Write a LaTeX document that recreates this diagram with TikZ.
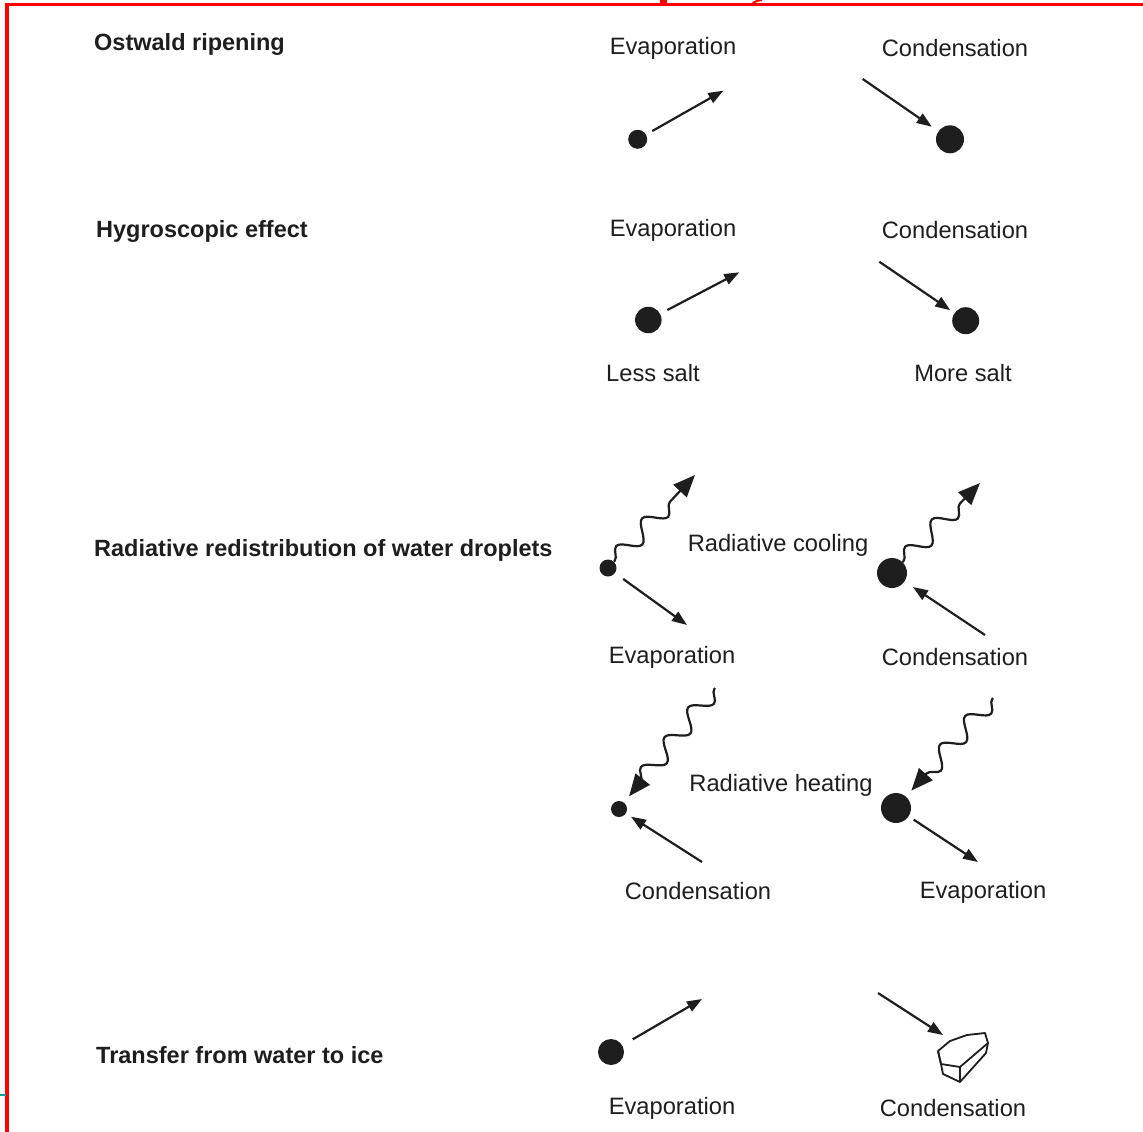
\documentclass[tikz,border=0pt]{standalone}
\usepackage{fontspec}
\setmainfont{Liberation Sans}
\usetikzlibrary{arrows.meta,decorations.pathmorphing}
\definecolor{ink}{HTML}{1E1E1E}
\definecolor{frame}{HTML}{FF0000}
\definecolor{tealline}{HTML}{00A0A0}
\tikzset{
  head/.style={font=\fontsize{23.5}{26}\selectfont\bfseries, text=ink, anchor=west, inner sep=0pt},
  lbl/.style={font=\fontsize{23.7}{26}\selectfont, text=ink, inner sep=0pt},
  drop/.style={circle, fill=ink, draw=none, inner sep=0pt},
  arr/.style={draw=ink, line width=2.2pt, -{Triangle[length=15pt,width=11pt]}},
  wavy/.style={draw=ink, line width=2.2pt, -{Triangle[length=22pt,width=18pt]},
    decorate, decoration={snake, amplitude=9pt, segment length=38pt, pre length=1pt, post length=20pt}},
}
\begin{document}
\begin{tikzpicture}[x=1pt,y=-1pt]
\useasboundingbox (0,0) rectangle (1143,1132);
% frame
\draw[frame, line width=3.5pt] (7,1132) -- (7,4.5) -- (1143,4.5);
\fill[frame] (660,0) rectangle (667,4);
\draw[frame, line width=2pt] (752,4) .. controls (756,1) .. (762,0);
\draw[tealline, line width=2pt] (0,1095) -- (6,1095);

% headings
\node[head] (h1) at (94,44) {Ostwald ripening};
\node[head] (h2) at (96,231) {Hygroscopic effect};
\node[head] (h3) at (94,550) {Radiative redistribution of water droplets};
\node[head] (h4) at (96,1055) {Transfer from water to ice};

% Ostwald ripening
\node[lbl] (t1) at (673,48) {Evaporation};
\node[lbl] (t2) at (955,48) {Condensation};
\node[drop, minimum size=19pt] (d1) at (637.7,139.3) {};
\coordinate (e1) at (723.3,90.7);
\draw[arr, shorten <=7pt] (d1) -- (e1);
\node[drop, minimum size=28pt] (d2) at (950,139.3) {};
\coordinate (c2) at (862.7,79);
\draw[arr, shorten >=8pt] (c2) -- (d2);

% Hygroscopic effect
\node[lbl] (t3) at (673,230) {Evaporation};
\node[lbl] (t4) at (955,230) {Condensation};
\node[drop, minimum size=26.5pt] (d3) at (648.3,320) {};
\coordinate (e3) at (739.3,272.3);
\draw[arr, shorten <=8pt] (d3) -- (e3);
\node[drop, minimum size=27pt] (d4) at (965.7,320.7) {};
\coordinate (c4) at (879.3,261.7);
\draw[arr, shorten >=5pt] (c4) -- (d4);
\node[lbl] (t5) at (653,373) {Less salt};
\node[lbl] (t6) at (963,373) {More salt};

% Radiative cooling
\node[lbl] (t7) at (778,545) {Radiative cooling};
\node[drop, minimum size=17pt] (d5) at (608,568) {};
\coordinate (w5) at (695,475);
\draw[wavy] (d5) -- (w5);
\coordinate (e5) at (687,625);
\draw[arr, shorten <=10pt] (d5) -- (e5);
\node[drop, minimum size=30pt] (d6) at (892,573) {};
\coordinate (w6) at (980,483);
\draw[wavy] (d6) -- (w6);
\coordinate (c6) at (985,635);
\draw[arr, shorten >=10pt] (c6) -- (d6);
\node[lbl] (t8) at (672,657) {Evaporation};
\node[lbl] (t9) at (955,657) {Condensation};

% Radiative heating
\node[lbl] (t10) at (781,785) {Radiative heating};
\node[drop, minimum size=16pt] (d7) at (619,809) {};
\coordinate (w7) at (715,688);
\draw[wavy, shorten >=8pt] (w7) -- (d7);
\coordinate (c7) at (702,862);
\draw[arr, shorten >=6pt] (c7) -- (d7);
\node[drop, minimum size=30pt] (d8) at (896,808) {};
\coordinate (w8) at (993,698);
\draw[wavy, shorten >=8pt] (w8) -- (d8);
\coordinate (e8) at (978,862);
\draw[arr, shorten <=6pt] (d8) -- (e8);
\node[lbl] (t11) at (698,891) {Condensation};
\node[lbl] (t12) at (983,892) {Evaporation};

% Transfer from water to ice
\node[drop, minimum size=26pt] (d9) at (611,1052) {};
\coordinate (e9) at (702,999);
\draw[arr, shorten <=12pt] (d9) -- (e9);
\coordinate (c10) at (878,993);
\coordinate (ice) at (943,1035);
\draw[arr] (c10) -- (ice);
% ice crystal (hexagonal plate)
\draw[ink, line width=1.8pt, line join=round, fill=white]
  (938,1051) -- (950,1041) -- (967,1035) -- (985,1033) -- (988,1043) -- (960,1067) -- (941,1064) -- cycle;
\draw[ink, line width=1.8pt, line join=round]
  (941,1064) -- (943,1074) -- (960,1082) -- (986,1053) -- (988,1043)
  (960,1067) -- (960,1082)
  (938,1051) -- (941,1064);
\node[lbl] (t13) at (672,1108) {Evaporation};
\node[lbl] (t14) at (953,1108) {Condensation};
\end{tikzpicture}
\end{document}
